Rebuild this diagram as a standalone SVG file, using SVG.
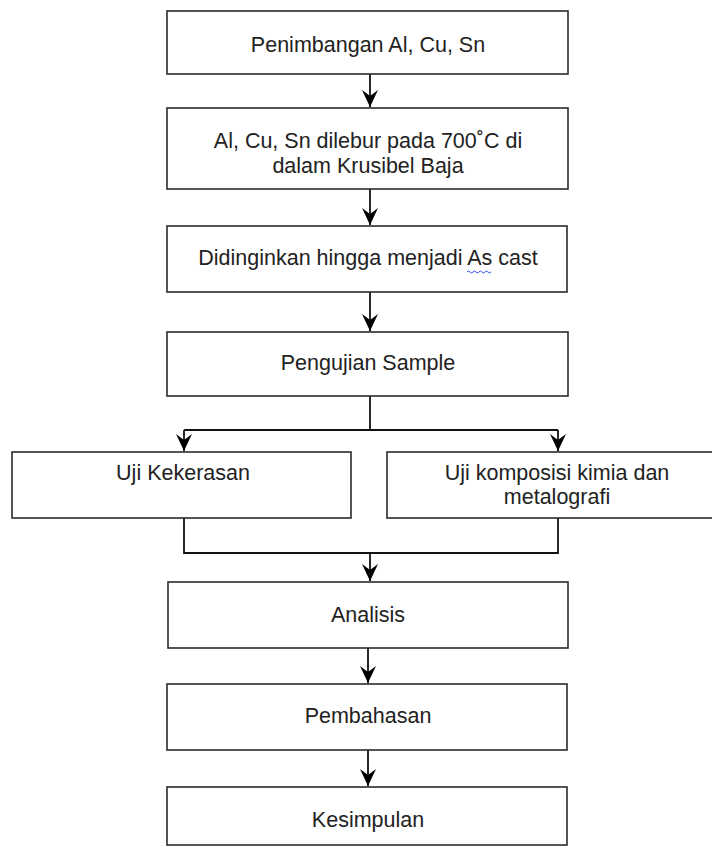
<svg xmlns="http://www.w3.org/2000/svg" width="712" height="846" viewBox="0 0 712 846">
<style>
.box{fill:#fff;stroke:#2b2b2b;stroke-width:1.6}
.t{font-family:"Liberation Sans",Arial,sans-serif;font-size:21.5px;fill:#222;text-anchor:middle}
.c{fill:none;stroke:#111;stroke-width:1.8}
</style>
<defs>
<marker id="ah" markerUnits="userSpaceOnUse" markerWidth="18" markerHeight="16" refX="17" refY="8" orient="auto">
<path d="M0,0 L17,8 L0,16 L6,8 Z" fill="#000"/>
</marker>
</defs>
<rect width="712" height="846" fill="#fff"/>
<g id="connectors">
<line class="c" x1="370" y1="74" x2="370" y2="107" marker-end="url(#ah)"/>
<line class="c" x1="370" y1="189" x2="370" y2="225" marker-end="url(#ah)"/>
<line class="c" x1="370" y1="292" x2="370" y2="331" marker-end="url(#ah)"/>
<polyline class="c" points="370,396 370,430"/>
<polyline class="c" points="184,430 558,430"/>
<line class="c" x1="184" y1="430" x2="184" y2="451" marker-end="url(#ah)"/>
<line class="c" x1="558" y1="430" x2="558" y2="451" marker-end="url(#ah)"/>
<polyline class="c" points="184,515 184,553 558,553 558,518"/>
<line class="c" x1="370" y1="553" x2="370" y2="581" marker-end="url(#ah)"/>
<line class="c" x1="368" y1="648" x2="368" y2="683" marker-end="url(#ah)"/>
<line class="c" x1="368" y1="750" x2="368" y2="786" marker-end="url(#ah)"/>
</g>
<g id="n1"><rect class="box" x="167" y="11" width="401" height="63"/><text class="t" x="368" y="52">Penimbangan Al, Cu, Sn</text></g>
<g id="n2"><rect class="box" x="167" y="108" width="401" height="81"/><text class="t" x="368" y="148">Al, Cu, Sn dilebur pada 700˚C di</text><text class="t" x="368" y="173">dalam Krusibel Baja</text></g>
<g id="n3"><rect class="box" x="167" y="226" width="400" height="66"/><text class="t" x="368" y="265">Didinginkan hingga menjadi As cast</text><path d="M467,272 q1.5,-2 3,0 t3,0 t3,0 t3,0 t3,0 t3,0 t3,0 t3,0" fill="none" stroke="#3050e0" stroke-width="1"/></g>
<g id="n4"><rect class="box" x="167" y="332" width="401" height="64"/><text class="t" x="368" y="370">Pengujian Sample</text></g>
<g id="n5"><rect class="box" x="12" y="452" width="339" height="66"/><text class="t" x="183" y="480">Uji Kekerasan</text></g>
<g id="n6"><rect class="box" x="387" y="452" width="340" height="66"/><text class="t" x="557" y="480">Uji komposisi kimia dan</text><text class="t" x="557" y="504">metalografi</text></g>
<g id="n7"><rect class="box" x="168" y="582" width="400" height="66"/><text class="t" x="368" y="622">Analisis</text></g>
<g id="n8"><rect class="box" x="167" y="684" width="400" height="66"/><text class="t" x="368" y="723">Pembahasan</text></g>
<g id="n9"><rect class="box" x="167" y="787" width="400" height="58"/><text class="t" x="368" y="827">Kesimpulan</text></g>
</svg>
